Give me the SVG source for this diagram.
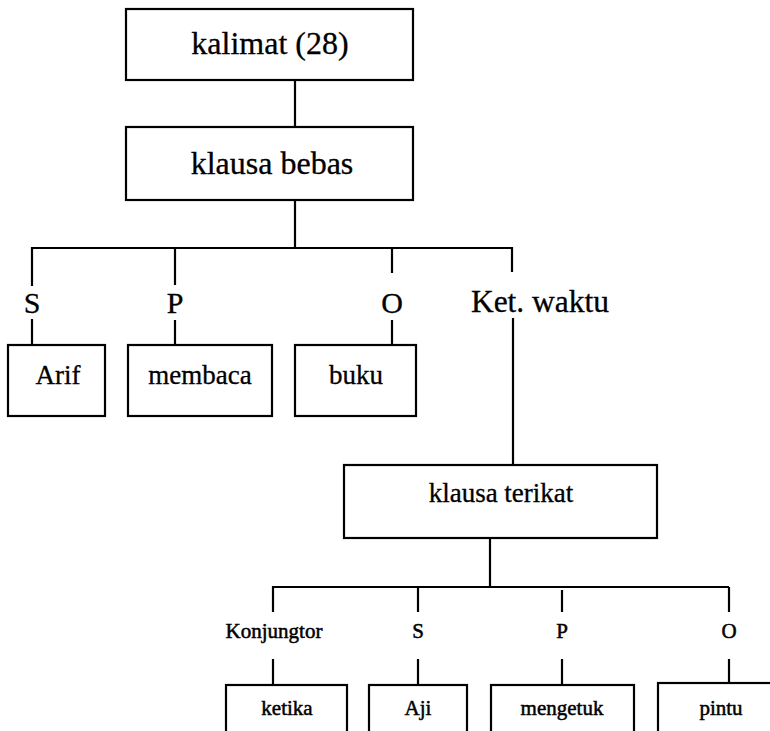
<svg xmlns="http://www.w3.org/2000/svg" width="770" height="731" viewBox="0 0 770 731">
<style>
rect{fill:#fff;stroke:#000;stroke-width:2.2}
line{stroke:#000;stroke-width:2.2}
text{fill:#000;text-anchor:middle;stroke:#000;stroke-width:0.3}
.t1{font-size:32px}
.t2{font-size:30px}
.t3{font-size:27px}
.t4{font-size:27px}
.t5{font-size:21px;stroke-width:0.5}
.t6{font-size:21px;stroke-width:0.5}
</style>
<rect x="0" y="0" width="770" height="731" style="stroke:none"/>
<g id="connectors">
<line x1="295" y1="80" x2="295" y2="127"/>
<line x1="295" y1="200" x2="295" y2="248"/>
<line x1="31" y1="248" x2="513" y2="248"/>
<line x1="32" y1="247" x2="32" y2="286"/>
<line x1="32" y1="319" x2="32" y2="345"/>
<line x1="175" y1="248" x2="175" y2="285"/>
<line x1="175" y1="320" x2="175" y2="345"/>
<line x1="392" y1="248" x2="392" y2="273"/>
<line x1="392" y1="320" x2="392" y2="345"/>
<line x1="512" y1="247" x2="512" y2="272"/>
<line x1="513" y1="318" x2="513" y2="465"/>
<line x1="490" y1="538" x2="490" y2="587"/>
<line x1="272" y1="587" x2="729" y2="587"/>
<line x1="273" y1="586" x2="273" y2="612"/>
<line x1="273" y1="659" x2="273" y2="685"/>
<line x1="418" y1="587" x2="418" y2="612"/>
<line x1="418" y1="659" x2="418" y2="685"/>
<line x1="562" y1="590" x2="562" y2="612"/>
<line x1="562" y1="659" x2="562" y2="685"/>
<line x1="729" y1="587" x2="729" y2="612"/>
<line x1="729" y1="659" x2="729" y2="683"/>
</g>
<g font-family="'Liberation Serif', 'DejaVu Serif', serif">
<g id="kalimat">
<rect x="126" y="9" width="287" height="71"/>
<text class="t1" x="270" y="54">kalimat (28)</text>
</g>
<g id="klausa-bebas">
<rect x="126" y="127" width="287" height="73"/>
<text class="t1" x="272" y="174">klausa bebas</text>
</g>
<g id="label-S1"><text class="t2" x="32" y="313">S</text></g>
<g id="label-P1"><text class="t2" x="175" y="313">P</text></g>
<g id="label-O1"><text class="t2" x="392" y="313">O</text></g>
<g id="label-ket"><text class="t2" x="540" y="312" style="font-size:31.5px">Ket. waktu</text></g>
<g id="arif">
<rect x="8" y="345" width="97" height="71"/>
<text class="t3" x="58" y="384">Arif</text>
</g>
<g id="membaca">
<rect x="128" y="345" width="144" height="71"/>
<text class="t3" x="200" y="384">membaca</text>
</g>
<g id="buku">
<rect x="295" y="345" width="121" height="71"/>
<text class="t3" x="356" y="384">buku</text>
</g>
<g id="klausa-terikat">
<rect x="344" y="465" width="313" height="73"/>
<text class="t4" x="501" y="502">klausa terikat</text>
</g>
<g id="label-konj"><text class="t5" x="274" y="638">Konjungtor</text></g>
<g id="label-S2"><text class="t5" x="418" y="638">S</text></g>
<g id="label-P2"><text class="t5" x="562" y="638">P</text></g>
<g id="label-O2"><text class="t5" x="729" y="638">O</text></g>
<g id="ketika">
<rect x="226" y="685" width="121" height="60"/>
<text class="t6" x="287" y="715">ketika</text>
</g>
<g id="aji">
<rect x="369" y="685" width="98" height="60"/>
<text class="t6" x="418" y="715">Aji</text>
</g>
<g id="mengetuk">
<rect x="491" y="685" width="143" height="60"/>
<text class="t6" x="562" y="715">mengetuk</text>
</g>
<g id="pintu">
<rect x="658" y="683" width="130" height="62"/>
<text class="t6" x="721" y="715">pintu</text>
</g>
</g>
</svg>
